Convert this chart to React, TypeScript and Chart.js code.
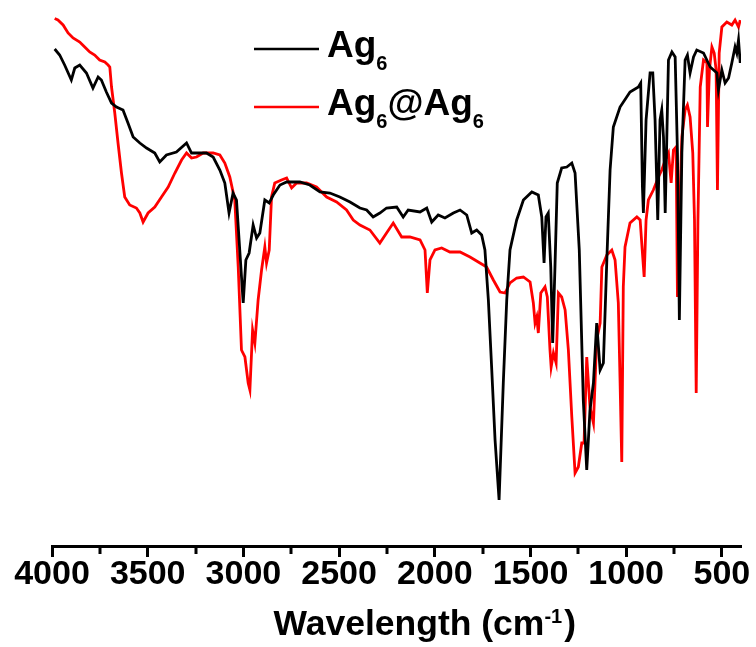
import React, { useEffect, useRef } from "react";
import { Chart, registerables } from "chart.js";

Chart.register(...registerables);

// ---------- data ----------
const ag6Wavenumber = [
  3986, 3960, 3934, 3899, 3881, 3855, 3820, 3786, 3759, 3742, 3716, 3689, 3663, 3629, 3603, 3576, 3541, 3506, 3463, 3437,
  3402, 3350, 3297, 3271, 3228, 3193, 3158, 3123, 3097, 3075, 3054, 3036, 3019, 3001, 2987, 2970, 2949, 2931, 2914, 2888,
  2865, 2844, 2809, 2774, 2705, 2653, 2600, 2548, 2496, 2443, 2391, 2356, 2322, 2287, 2252, 2199, 2165, 2139, 2077, 2042,
  2016, 1982, 1947, 1903, 1868, 1833, 1807, 1781, 1755, 1738, 1720, 1703, 1685, 1664, 1642, 1624, 1607, 1572, 1537, 1493,
  1459, 1441, 1429, 1419, 1407, 1394, 1384, 1372, 1360, 1337, 1310, 1284, 1267, 1245, 1224, 1206, 1189, 1171, 1154, 1136,
  1119, 1101, 1084, 1067, 1032, 980, 936, 924, 915, 910, 896, 875, 861, 849, 835, 823, 814, 805, 796, 779,
  761, 744, 732, 722, 709, 692, 680, 666, 648, 631, 596, 561, 526, 518, 500, 483, 465, 448, 431, 422,
  413, 404,
];
const ag6Transmittance = [
  99.4, 98.2, 96.2, 93.2, 95.6, 96.2, 94.6, 91.6, 93.8, 93.2, 90.8, 88.6, 87.8, 87.2, 84.6, 81.8, 80.6, 79.6, 78.6, 76.8,
  78.2, 78.8, 80.6, 78.6, 78.6, 78.6, 77.8, 75.2, 72.6, 66.6, 70.6, 69.2, 59.2, 48.6, 57.2, 58.6, 64.2, 61.6, 62.6, 69.2,
  68.6, 70.2, 72.2, 72.8, 72.8, 72.2, 70.8, 70.6, 69.8, 68.8, 67.6, 67.2, 65.8, 66.6, 67.6, 67.8, 65.8, 67.2, 66.8, 67.6,
  64.8, 66.2, 65.6, 66.6, 67.2, 66.2, 62.6, 63.2, 62.2, 59.2, 49.2, 35.8, 21.2, 9.2, 32.6, 49.2, 59.2, 65.2, 69.2, 70.8,
  70.2, 65.8, 56.6, 65.8, 66.6, 55.8, 40.6, 55.8, 72.6, 75.6, 75.8, 76.6, 74.6, 59.2, 29.2, 15.2, 27.2, 32.6, 44.6, 35.2,
  36.6, 57.2, 75.2, 83.8, 87.8, 90.8, 91.8, 92.6, 71.8, 66.6, 85.2, 94.6, 94.6, 85.2, 65.2, 85.2, 87.2, 81.8, 66.6, 97.2,
  98.8, 97.8, 78.6, 45.2, 78.6, 97.2, 98.2, 94.6, 97.8, 99.2, 98.6, 95.8, 94.6, 91.2, 95.2, 92.6, 93.6, 96.6, 99.8, 98.6,
  101.2, 96.6,
];

const ag6Ag6Wavenumber = [
  3986, 3969, 3942, 3916, 3890, 3855, 3829, 3803, 3777, 3751, 3724, 3707, 3698, 3689, 3672, 3655, 3637, 3620, 3594, 3559,
  3541, 3524, 3498, 3463, 3428, 3393, 3358, 3323, 3297, 3271, 3245, 3210, 3158, 3123, 3097, 3071, 3045, 3027, 3010, 2992,
  2975, 2966, 2952, 2940, 2923, 2905, 2888, 2879, 2865, 2853, 2836, 2801, 2774, 2748, 2722, 2670, 2618, 2565, 2513, 2461,
  2426, 2391, 2339, 2287, 2252, 2217, 2173, 2130, 2077, 2051, 2039, 2025, 1999, 1964, 1921, 1868, 1816, 1764, 1729, 1694,
  1659, 1633, 1607, 1572, 1537, 1502, 1485, 1476, 1467, 1459, 1446, 1424, 1412, 1398, 1392, 1380, 1366, 1354, 1337, 1319,
  1302, 1284, 1267, 1250, 1232, 1220, 1206, 1189, 1171, 1154, 1136, 1127, 1101, 1075, 1058, 1041, 1032, 1023, 1015, 1006,
  980, 944, 927, 915, 906, 896, 884, 858, 831, 814, 796, 779, 765, 753, 739, 732, 722, 709, 692, 680,
  666, 652, 643, 634, 625, 613, 596, 578, 575, 565, 552, 540, 530, 523, 514, 500, 474, 448, 431, 413,
  404,
];
const ag6Ag6Transmittance = [
  105.5, 105.2, 104.2, 102.6, 101.6, 100.8, 99.8, 98.8, 98.2, 97.2, 96.8, 96.2, 95.8, 91.8, 86.6, 80.6, 74.6, 69.8, 68.2, 67.6,
  66.6, 64.8, 66.6, 67.8, 69.8, 71.8, 74.6, 77.2, 78.6, 77.6, 77.8, 78.6, 78.6, 78.2, 76.6, 73.8, 69.2, 55.8, 39.2, 37.8,
  32.6, 31.2, 43.2, 40.6, 49.2, 55.2, 59.8, 56.6, 59.2, 69.8, 72.6, 73.2, 73.6, 71.6, 72.6, 72.6, 71.8, 69.8, 68.8, 67.2,
  65.2, 64.2, 63.2, 60.6, 62.6, 64.6, 61.8, 61.8, 61.2, 59.2, 50.6, 57.2, 59.2, 59.6, 58.8, 58.8, 57.8, 56.6, 55.8, 53.2,
  50.8, 50.6, 52.6, 53.6, 53.8, 52.8, 48.6, 44.6, 45.8, 42.6, 50.6, 51.8, 49.8, 39.2, 35.8, 38.6, 36.6, 50.6, 49.8, 47.2,
  39.2, 25.8, 14.6, 15.8, 20.6, 20.6, 37.8, 27.8, 24.6, 41.2, 44.6, 55.8, 58.2, 59.2, 57.2, 48.6, 33.2, 16.8, 51.8, 59.8,
  64.6, 65.8, 65.2, 58.6, 53.8, 65.2, 69.2, 71.2, 73.8, 75.2, 77.2, 78.6, 72.6, 79.2, 79.8, 49.8, 65.2, 81.8, 87.2, 88.2,
  85.8, 78.6, 65.2, 30.6, 65.2, 91.8, 97.2, 96.6, 83.8, 95.2, 99.8, 98.6, 95.2, 71.2, 98.6, 103.8, 104.8, 104.2, 105.2, 103.8,
  105.2,
];

const majorTicks = [4000, 3500, 3000, 2500, 2000, 1500, 1000, 500];
const minorTicks = [3750, 3250, 2750, 2250, 1750, 1250, 750];
const xAxisTitle = "Wavelength (cm";
const xAxisTitleSup = "-1";
const xAxisTitleEnd = ")";
const seriesNames = ["Ag6", "Ag6@Ag6"];
const seriesColors = ["#000000", "#ff0000"];

const FONT = '"Liberation Sans", Arial, Helvetica, sans-serif';

type Part = { t: string; sub?: boolean; sup?: boolean };

function drawRich(ctx: CanvasRenderingContext2D, x: number, y: number, parts: Part[], size: number, smallSize: number, subShift: number, supShift: number) {
  let cx = x;
  for (const p of parts) {
    if (p.sub || p.sup) {
      ctx.font = `bold ${smallSize}px ${FONT}`;
      ctx.fillText(p.t, cx, p.sub ? y + subShift : y - supShift);
    } else {
      ctx.font = `bold ${size}px ${FONT}`;
      ctx.fillText(p.t, cx, y);
    }
    cx += ctx.measureText(p.t).width;
  }
  return cx;
}

function legendParts(name: string): Part[] {
  const out: Part[] = [];
  const re = /([A-Za-z@]+)(\d*)/g;
  let m: RegExpExecArray | null;
  while ((m = re.exec(name)) !== null) {
    if (m[0] === "") break;
    out.push({ t: m[1] });
    if (m[2]) out.push({ t: m[2], sub: true });
  }
  return out;
}

const decorPlugin = {
  id: "decor",
  afterDraw(chart: any) {
    const { ctx, chartArea, scales } = chart;
    const xs = scales.x;
    ctx.save();
    // minor ticks
    ctx.strokeStyle = "#000";
    ctx.lineWidth = 3;
    for (const v of minorTicks) {
      const px = Math.round(xs.getPixelForValue(v));
      ctx.beginPath();
      ctx.moveTo(px, chartArea.bottom);
      ctx.lineTo(px, chartArea.bottom + 8);
      ctx.stroke();
    }
    // axis title with superscript
    ctx.fillStyle = "#000";
    ctx.textBaseline = "alphabetic";
    ctx.textAlign = "left";
    const TS = 35.5;
    const SS = 20;
    ctx.font = `bold ${TS}px ${FONT}`;
    const w1 = ctx.measureText(xAxisTitle).width;
    ctx.font = `bold ${SS}px ${FONT}`;
    const w2 = ctx.measureText(xAxisTitleSup).width;
    ctx.font = `bold ${TS}px ${FONT}`;
    const w3 = ctx.measureText(xAxisTitleEnd).width;
    const total = w1 + w2 + w3 + 2;
    const cxTitle = chartArea.left + (chartArea.right - chartArea.left) * 0.541;
    const tx = cxTitle - total / 2;
    const ty = chartArea.bottom + 89;
    const nx = drawRich(ctx, tx, ty, [{ t: xAxisTitle }, { t: xAxisTitleSup, sup: true }], TS, SS, 13, 12);
    ctx.font = `bold ${TS}px ${FONT}`;
    ctx.fillText(xAxisTitleEnd, nx + 2, ty);

    // legend
    const lx0 = chartArea.left + 202;
    const lx1 = chartArea.left + 267;
    const rows = [chartArea.top + 38, chartArea.top + 96];
    seriesNames.forEach((name, i) => {
      const ly = rows[i];
      ctx.strokeStyle = seriesColors[i];
      ctx.lineWidth = 2.5;
      ctx.beginPath();
      ctx.moveTo(lx0, ly);
      ctx.lineTo(lx1, ly);
      ctx.stroke();
      ctx.fillStyle = "#000";
      drawRich(ctx, chartArea.left + 275, ly + 8, legendParts(name), 37, 20, 13, 12);
    });
    ctx.restore();
  },
};

export default function App() {
  const canvasRef = useRef<HTMLCanvasElement | null>(null);

  useEffect(() => {
    const canvas = canvasRef.current;
    if (!canvas) return;
    const chart = new Chart(canvas, {
      type: "line",
      data: {
        datasets: [
          {
            label: seriesNames[0],
            data: ag6Wavenumber.map((x, i) => ({ x, y: ag6Transmittance[i] })),
            borderColor: seriesColors[0],
            borderWidth: 2.8,
            pointRadius: 0,
            tension: 0,
            fill: false,
          },
          {
            label: seriesNames[1],
            data: ag6Ag6Wavenumber.map((x, i) => ({ x, y: ag6Ag6Transmittance[i] })),
            borderColor: seriesColors[1],
            borderWidth: 2.8,
            pointRadius: 0,
            tension: 0,
            fill: false,
          },
        ],
      },
      options: {
        responsive: false,
        animation: false,
        devicePixelRatio: 1,
        layout: { padding: { left: 52, right: 15, top: 11, bottom: 54 } },
        plugins: {
          legend: { display: false },
          tooltip: { enabled: false },
          title: { display: false },
        },
        scales: {
          x: {
            type: "linear",
            reverse: true,
            min: 400,
            max: 4000,
            afterBuildTicks: (scale: any) => {
              scale.ticks = majorTicks.map((v) => ({ value: v }));
            },
            ticks: {
              autoSkip: false,
              maxRotation: 0,
              minRotation: 0,
              padding: 1,
              color: "#000",
              font: { family: FONT, size: 34, weight: "bold", lineHeight: 1 },
              callback: (v: any) => String(v),
            },
            grid: {
              display: true,
              drawOnChartArea: false,
              drawTicks: true,
              tickLength: 11,
              tickWidth: 3,
              tickColor: "#000",
            },
            border: { display: true, width: 3, color: "#000" },
          },
          y: {
            display: false,
            min: 0,
            max: 107,
          },
        },
      },
      plugins: [decorPlugin],
    } as any);
    return () => chart.destroy();
  }, []);

  return (
    <div style={{ position: "absolute", left: 0, top: 0, width: 756, height: 647, background: "#fff" }}>
      <canvas ref={canvasRef} width={756} height={647} style={{ display: "block", width: 756, height: 647 }} />
    </div>
  );
}
